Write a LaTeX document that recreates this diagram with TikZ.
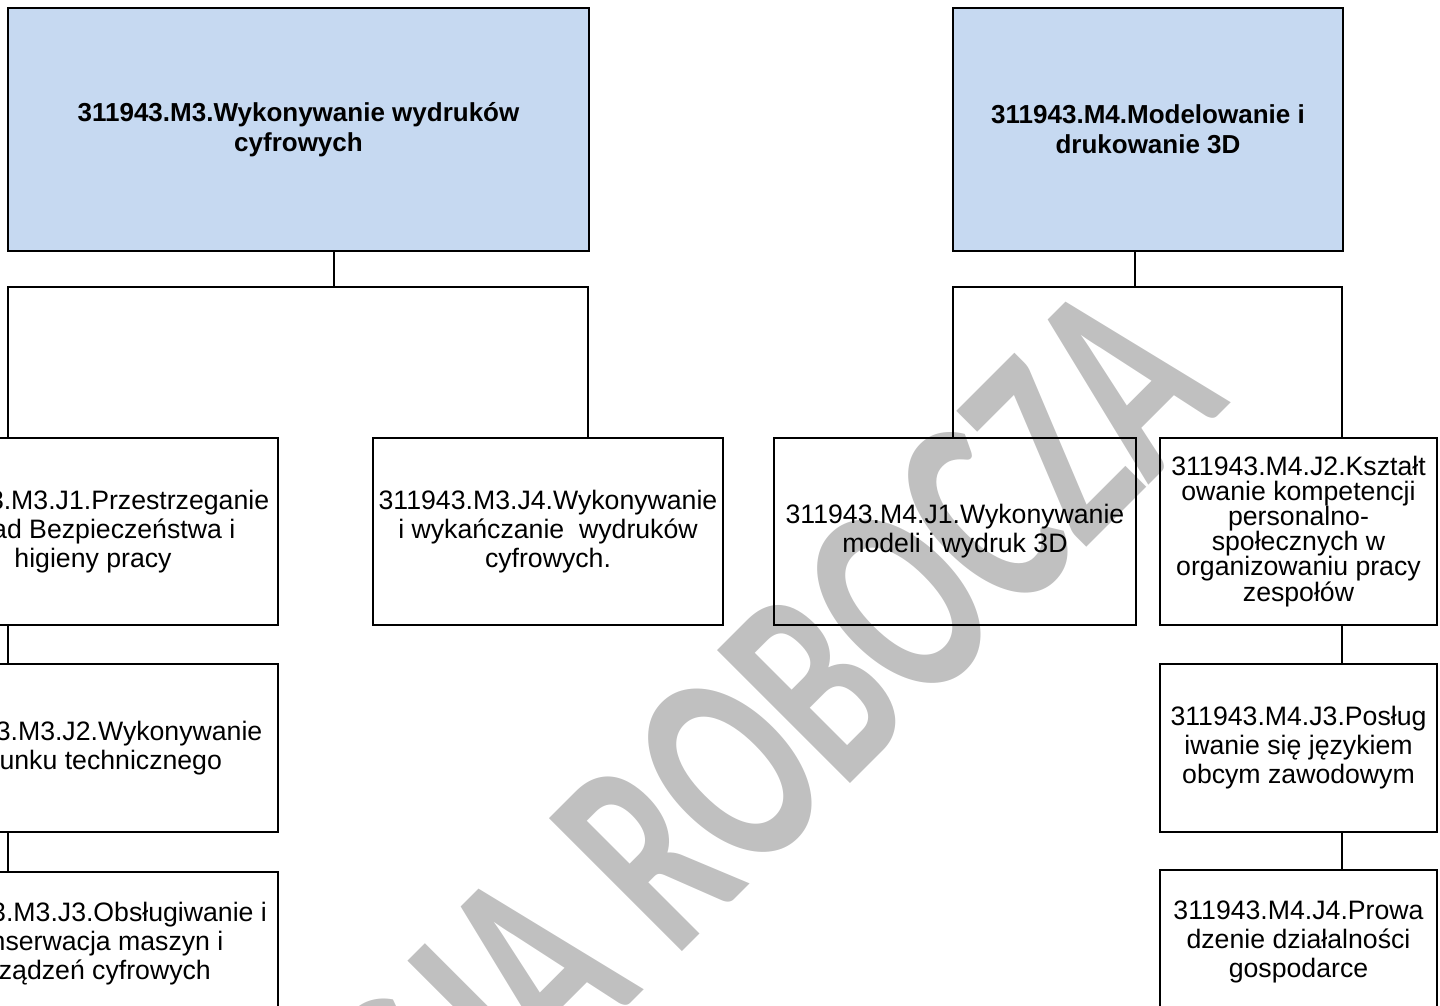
\documentclass[tikz,border=0pt]{standalone}
\usepackage{fontspec}
\setmainfont{Liberation Sans}
\newfontfamily\wmfont{Carlito}
\definecolor{hdrblue}{RGB}{198,217,241}
\definecolor{wmgray}{RGB}{192,192,192}

\tikzset{every picture/.style={line width=0.75pt}}
\tikzset{
  hdrbox/.style={draw, line width=2.2pt, fill=hdrblue, align=center, inner sep=0pt,
    font=\bfseries\fontsize{19.5}{22.5}\selectfont},
  unitbox/.style={draw, line width=2.2pt, align=center, inner sep=0pt,
    font=\fontsize{20}{21.75}\selectfont},
  link/.style={line width=1.4pt},
  wmtext/.style={text=wmgray, inner sep=0pt, font=\wmfont\bfseries\fontsize{145}{145}\selectfont},
}

\begin{document}
\begin{tikzpicture}[x=0.75pt,y=0.75pt,yscale=-1,xscale=1]
\useasboundingbox (0,0) rectangle (1440,1006);
\clip (0,0) rectangle (1440,1006);

% Watermark
\node (wmark) [wmtext, anchor=base east, rotate=45, yscale=1.5] at (1232,402) {WERSJA ROBOCZA};

%Shape: Rectangle (modules)
\node (hdrA) [hdrbox, minimum width=435.75pt, minimum height=182.25pt] at (298.5,129.5)
  {311943.M3.Wykonywanie wydruków\\cyfrowych};
\node (hdrB) [hdrbox, minimum width=292.5pt, minimum height=182.25pt] at (1148,129.5)
  {311943.M4.Modelowanie i\\drukowanie 3D};

%Shape: Rectangle (units of M3)
\node (kidA1) [unitbox, minimum width=277.5pt, minimum height=140.25pt] at (93,531.5)
  {311943.M3.J1.Przestrzeganie\\zasad Bezpieczeństwa i\\higieny pracy};
\node (kidA2) [unitbox, minimum width=277.5pt, minimum height=126pt] at (93,748)
  {311943.M3.J2.Wykonywanie\\rysunku technicznego};
\node (kidA3) [unitbox, minimum width=277.5pt, minimum height=108pt] at (93,944)
  {311943.M3.J3.Obsługiwanie i\\konserwacja maszyn i\\urządzeń cyfrowych};
\node (kidA4) [unitbox, minimum width=262.5pt, minimum height=140.25pt] at (548,531.5)
  {311943.M3.J4.Wykonywanie\\i wykańczanie\ \ wydruków\\cyfrowych.};

%Shape: Rectangle (units of M4)
\node (kidB1) [unitbox, minimum width=271.5pt, minimum height=140.25pt] at (955,531.5)
  {311943.M4.J1.Wykonywanie\\modeli i wydruk 3D};
\node (kidB2) [unitbox, minimum width=207.75pt, minimum height=140.25pt, font=\fontsize{20}{18.75}\selectfont] at (1298.5,531.5)
  {311943.M4.J2.Kształt\\owanie kompetencji\\personalno-\\społecznych w\\organizowaniu pracy\\zespołów};
\node (kidB3) [unitbox, minimum width=207.75pt, minimum height=126pt] at (1298.5,748)
  {311943.M4.J3.Posług\\iwanie się językiem\\obcym zawodowym};
\node (kidB4) [unitbox, minimum width=207.75pt, minimum height=108pt] at (1298.5,942)
  {311943.M4.J4.Prowa\\dzenie działalności\\gospodarce};

%Straight Lines (M3 tree)
\coordinate (busA) at (334,287);
\coordinate (busAl) at (8,287);
\coordinate (busAr) at (588,287);
\draw [link] (hdrA.south -| busA) -- (busA);
\draw [link] (busAl |- kidA1.north) -- (busAl) -- (busAr) -- (busAr |- kidA4.north);
\draw [link] (busAl |- kidA1.south) -- (busAl |- kidA2.north);
\draw [link] (busAl |- kidA2.south) -- (busAl |- kidA3.north);

%Straight Lines (M4 tree)
\coordinate (busB) at (1135,287);
\coordinate (busBl) at (953,287);
\coordinate (busBr) at (1342,287);
\draw [link] (hdrB.south -| busB) -- (busB);
\draw [link] (busBl |- kidB1.north) -- (busBl) -- (busBr) -- (busBr |- kidB2.north);
\draw [link] (busBr |- kidB2.south) -- (busBr |- kidB3.north);
\draw [link] (busBr |- kidB3.south) -- (busBr |- kidB4.north);

\end{tikzpicture}
\end{document}
